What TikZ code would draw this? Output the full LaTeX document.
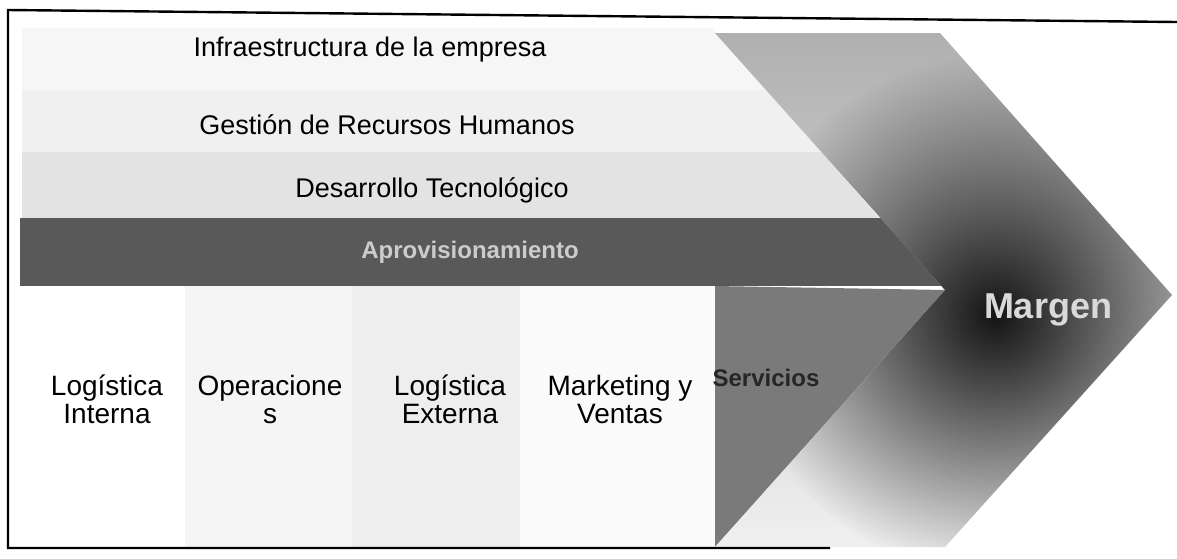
\documentclass[tikz,border=0pt]{standalone}
\usepackage{fontspec}
\setmainfont{Liberation Sans}
\usetikzlibrary{fadings}
\tikzfading[name=darkspot, inner color=transparent!0, outer color=transparent!100]

\begin{document}
\begin{tikzpicture}[x=0.5pt, y=-0.5pt,
    support/.style = {font=\fontsize{13.5}{16}\selectfont},
    primary/.style = {align=center, font=\fontsize{14}{14}\selectfont},
    accent/.style = {font=\bfseries\fontsize{#1}{#1}\selectfont},
  ]
  \useasboundingbox (0,0) rectangle (1177,558);

  % support activities
  \begin{scope}
    \clip (22,28) -- (713,28) -- (883,222) -- (22,222) -- cycle;
    \fill[gray!7] (22,28) rectangle (900,90);
    \fill[gray!12] (22,90) rectangle (900,152);
    \fill[gray!22] (22,152) rectangle (900,222);
  \end{scope}
  \fill[black!65] (20,218) rectangle (950,286);

  % primary activities
  \fill[gray!8] (185,286) rectangle (352,547);
  \fill[gray!13] (352,286) rectangle (520,547);
  \fill[gray!4] (520,286) rectangle (715,547);
  \fill[black!52] (715,286) -- (945,290) -- (715,547) -- cycle;

  % margin
  \shade[top color=gray!62, bottom color=gray!12]
    (715,33) -- (940,33) -- (1172,295) -- (945,547) -- (715,547) -- (945,290) -- cycle;
  \begin{scope}
    \clip (715,33) -- (940,33) -- (1172,295) -- (945,547) -- (715,547) -- (945,290) -- cycle;
    \fill[black!92, path fading=darkspot] (995,315) circle (260);
  \end{scope}

  % frame
  \draw[line width=1.2pt] (1177,22) -- (8,10) -- (8,548) -- (830,548);

  % nodes
  \node[support] (infra) at (370,50) {Infraestructura de la empresa};
  \node[support] (rrhh) at (387,125) {Gestión de Recursos Humanos};
  \node[support] (tec) at (432,190) {Desarrollo Tecnológico};
  \node[accent=12, text=gray!40] (aprov) at (470,252) {Aprovisionamiento};

  \node[primary] (logint) at (107,399) {Logística\\Interna};
  \node[primary] (oper) at (270,399) {Operacione\\s};
  \node[primary] (logext) at (450,399) {Logística\\Externa};
  \node[primary] (mkt) at (620,399) {Marketing y\\Ventas};
  \node[accent=12, text=black!85] (serv) at (766,378) {Servicios};
  \node[accent=18, text=gray!30] (margen) at (1048,310) {Margen};
\end{tikzpicture}
\end{document}
